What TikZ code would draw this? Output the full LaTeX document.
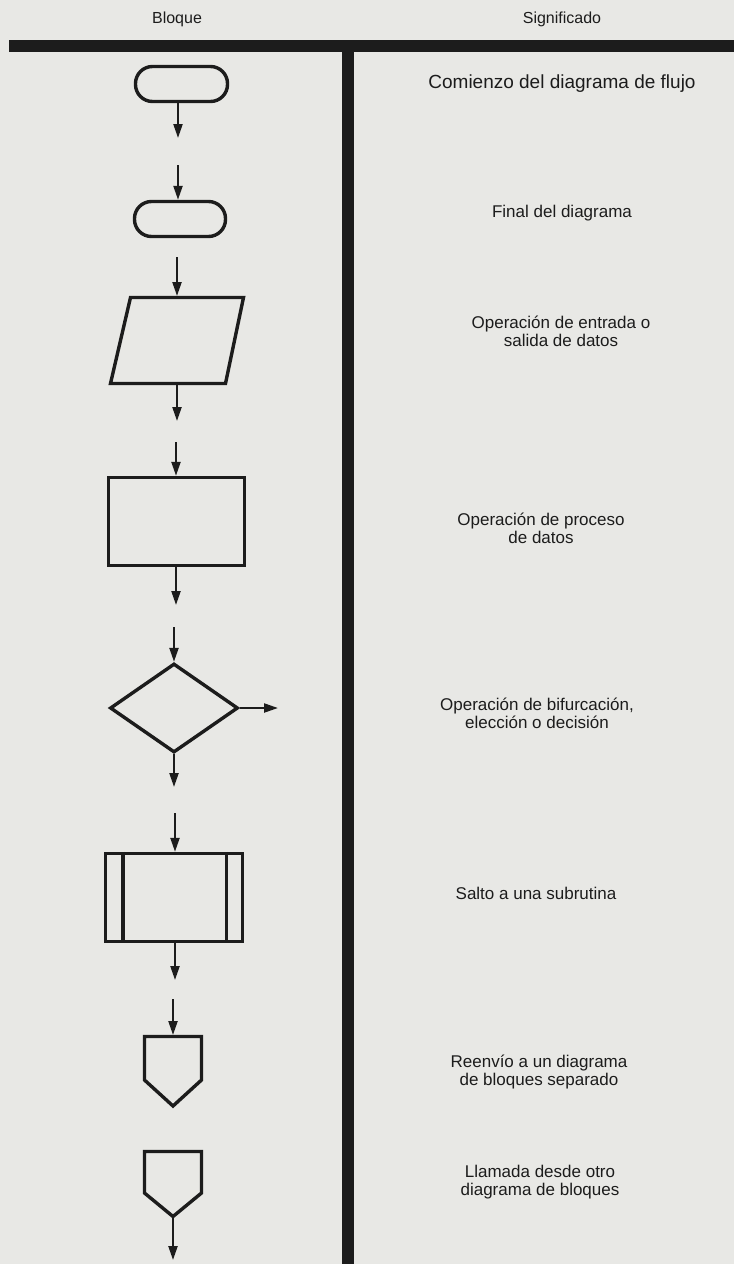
\documentclass[tikz,border=0pt]{standalone}
\usepackage{fontspec}
\setmainfont{Liberation Sans}
\usetikzlibrary{arrows.meta,shapes.geometric}
\definecolor{paper}{RGB}{232,232,229}
\definecolor{ink}{RGB}{28,28,28}
\begin{document}
\begin{tikzpicture}[x=1pt,y=-1pt,
  blk/.style={draw=ink, line width=3.4pt, inner sep=0pt},
  flow/.style={draw=ink, line width=2.2pt, -{Triangle[length=14pt,width=9pt]}},
  lbl/.style={text=ink, font=\fontsize{17}{18}\selectfont, align=center, inner sep=0pt},
  head/.style={text=ink, font=\fontsize{16}{18}\selectfont, inner sep=0pt}]
\fill[paper] (0,0) rectangle (734,1264);
\useasboundingbox (0,0) rectangle (734,1264);
% header and rules
\node[head] (hb) at (177,19) {Bloque};
\node[head] (hs) at (562,19) {Significado};
\fill[ink] (9,40) rectangle (734,52);
\fill[ink] (342,52) rectangle (354,1264);
% 1 start
\node[blk, rounded corners=17pt, minimum width=92pt, minimum height=35pt] (s1) at (181.5,84) {};
\coordinate (s1o) at (178,138);
\draw[flow] (s1o |- s1.south) -- (s1o);
% 2 end
\coordinate (s2i) at (178,165);
\node[blk, rounded corners=17pt, minimum width=91pt, minimum height=35pt] (s2) at (180,219) {};
\draw[flow] (s2i) -- (s2i |- s2.north);
% 3 input/output
\coordinate (pi) at (177,257);
\coordinate (pt) at (177,296);
\coordinate (pb) at (177,385);
\coordinate (po) at (177,421);
\draw[blk] (130.5,297.5) -- (243.5,297.5) -- (225.5,383.5) -- (110.5,383.5) -- cycle;
\draw[flow] (pi) -- (pt);
\draw[flow] (pb) -- (po);
% 4 process
\coordinate (ri) at (176,442);
\node[blk, minimum width=136pt, minimum height=88pt] (r) at (176.5,521.5) {};
\coordinate (ro) at (176,605);
\draw[flow] (ri) -- (ri |- r.north);
\draw[flow] (r.south -| ro) -- (ro);
% 5 decision
\coordinate (di) at (174,627);
\node[blk, diamond, minimum width=128pt, minimum height=89pt] (d) at (174,708) {};
\coordinate (dr) at (278,708);
\coordinate (db) at (174,787);
\draw[flow] (di) -- (d.north);
\draw[flow] (d.east) -- (dr);
\draw[flow] (d.south) -- (db);
% 6 subroutine
\coordinate (ui) at (175,813);
\node[blk, minimum width=137pt, minimum height=88pt] (u) at (174,897.5) {};
\draw[blk] ([xshift=19pt]u.north west) -- ([xshift=19pt]u.south west);
\draw[blk] ([xshift=-18pt]u.north east) -- ([xshift=-18pt]u.south east);
\coordinate (uo) at (175,980);
\draw[flow] (ui) -- (ui |- u.north);
\draw[flow] (u.south -| uo) -- (uo);
% 7 off-page out
\coordinate (ai) at (173,999);
\coordinate (at1) at (173,1035);
\draw[blk] (144.5,1036.5) -- (201.5,1036.5) -- (201.5,1080) -- (173,1106) -- (144.5,1080) -- cycle;
\draw[flow] (ai) -- (at1);
% 8 off-page in
\coordinate (bt) at (173,1216.5);
\coordinate (bo) at (173,1260);
\draw[blk] (144.5,1151.5) -- (201.5,1151.5) -- (201.5,1193) -- (bt) -- (144.5,1193) -- cycle;
\draw[flow] (bt) -- (bo);
% texts
\node[lbl, font=\fontsize{19}{20}\selectfont] (t1) at (562,84) {Comienzo del diagrama de flujo};
\node[lbl] (t2) at (562,213) {Final del diagrama};
\node[lbl] (t3) at (561,331) {Operación de entrada o\\salida de datos};
\node[lbl] (t4) at (541,528) {Operación de proceso\\de datos};
\node[lbl] (t5) at (537,713) {Operación de bifurcación,\\elección o decisión};
\node[lbl] (t6) at (536,893) {Salto a una subrutina};
\node[lbl] (t7) at (539,1072) {Reenvío a un diagrama\\de bloques separado};
\node[lbl] (t8) at (540,1182) {Llamada desde otro\\diagrama de bloques};
\end{tikzpicture}
\end{document}
